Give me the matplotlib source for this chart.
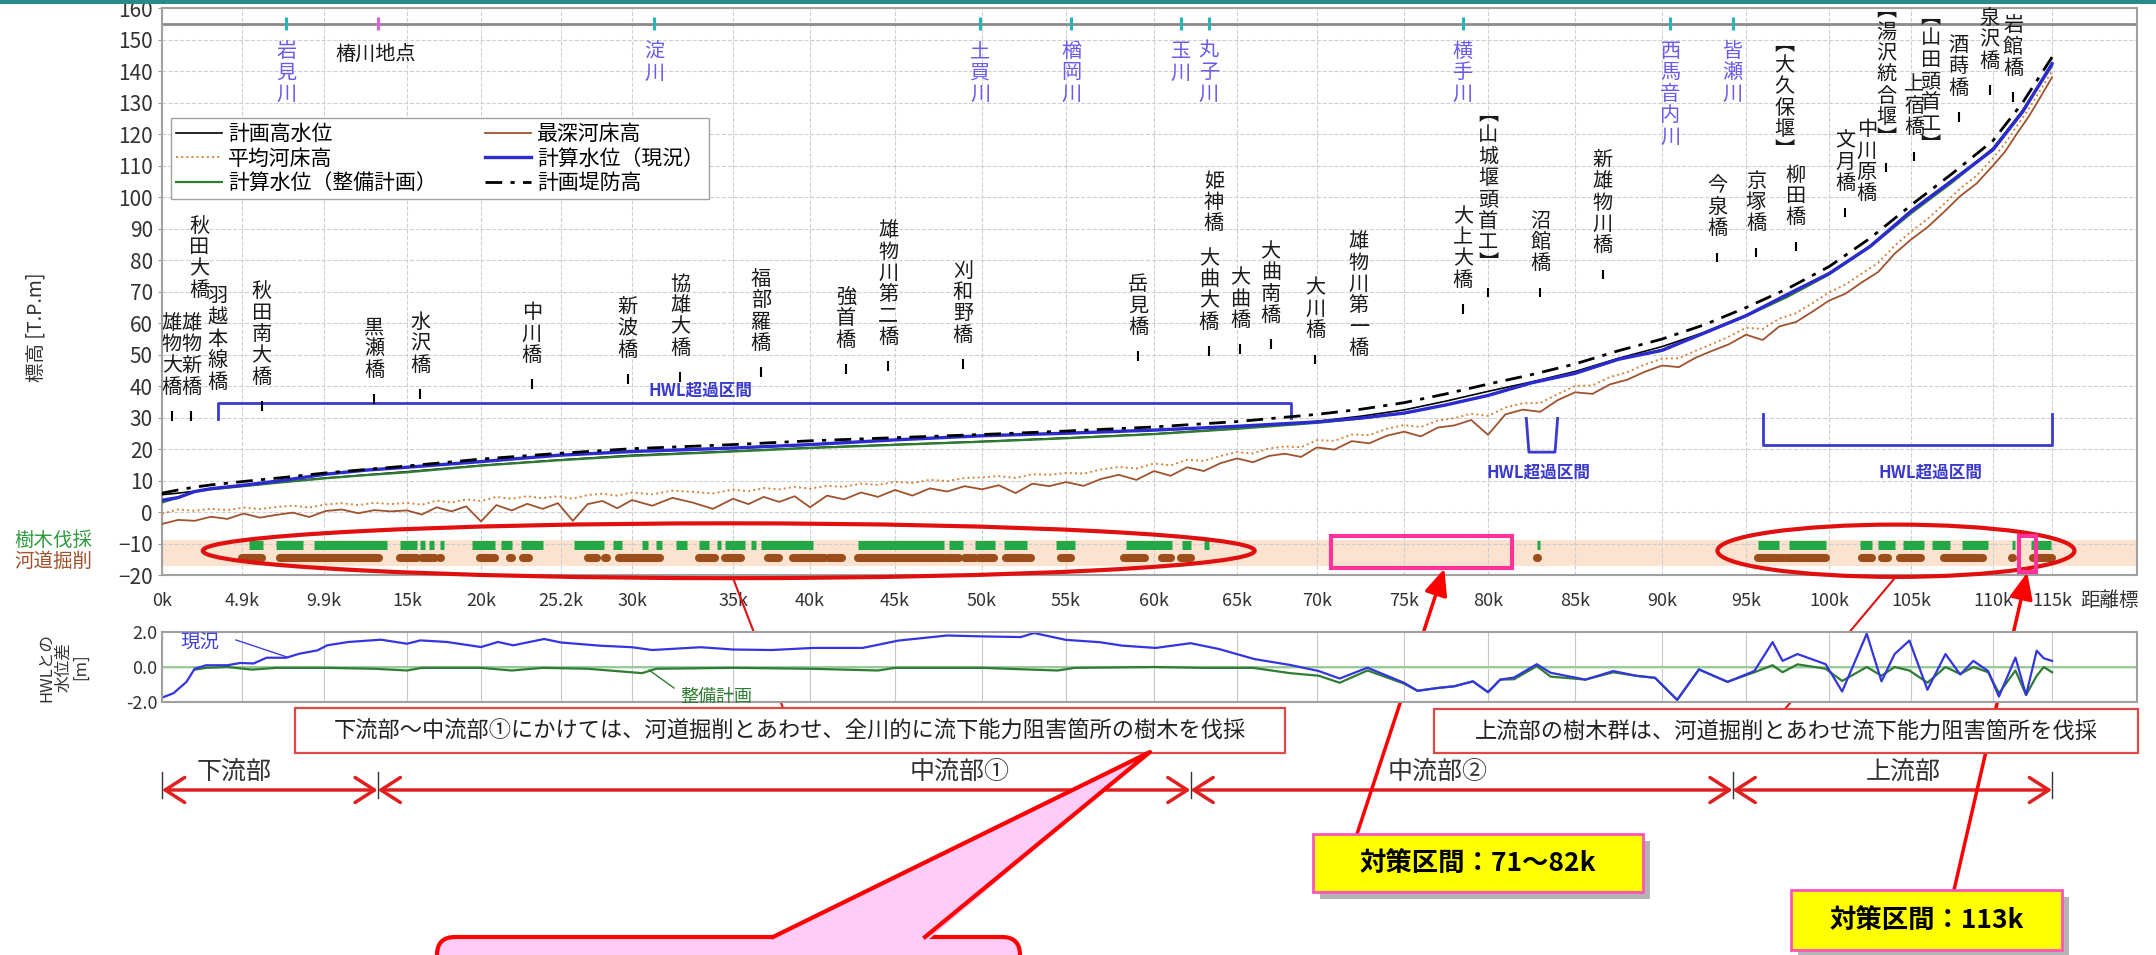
import numpy as np
import matplotlib
matplotlib.use("Agg")
import matplotlib.pyplot as plt
from matplotlib.patches import Ellipse, Rectangle, FancyBboxPatch, Polygon
from matplotlib.lines import Line2D
from matplotlib.transforms import Affine2D, blended_transform_factory

plt.rcParams['font.family'] = ['Noto Sans CJK JP', 'DejaVu Sans']

W, H, DPI = 2156, 955, 100

# distance marks on the x axis (the original axis is not evenly spaced in km)
TICK_KM = [0, 4.9, 9.9, 15, 20, 25.2, 30, 35, 40, 45, 50, 55, 60, 65, 70, 75, 80, 85, 90,
           95, 100, 105, 110, 115]
TICK_LABELS = ['0k', '4.9k', '9.9k', '15k', '20k', '25.2k', '30k', '35k', '40k', '45k', '50k',
               '55k', '60k', '65k', '70k', '75k', '80k', '85k', '90k', '95k', '100k', '105k',
               '110k', '115k']
TICK_POS = [162, 242, 324, 407, 481, 561, 632, 733, 810, 895, 982, 1066, 1154, 1237, 1317,
            1404, 1488, 1575, 1662, 1746, 1829, 1911, 1993, 2052]
XMAX = 122.2

# water levels [T.P.m]
WL_KM = [0, 1, 2, 3, 5, 7.5, 10, 12.5, 15, 20, 25, 30, 35, 40, 45, 50, 55, 60, 65, 70, 72.5,
         75, 77.5, 80, 82.5, 85, 87.5, 90, 92.5, 95, 97.5, 100, 102.5, 105, 107.5, 110, 112.5, 115]
HWL = [5.5, 6.0, 6.6, 7.3, 8.3, 9.6, 10.8, 11.8, 12.8, 14.8, 16.5, 18.0, 19.3, 20.4, 21.4, 22.4,
       23.5, 24.8, 26.5, 28.8, 30.4, 32.4, 35.2, 38.3, 41.3, 44.6, 48.8, 52.5, 57.0, 62.5, 68.5,
       75.5, 84.5, 95.0, 105.0, 115.5, 127.5, 142.0]
WL_NOW = [3.7, 4.6, 6.5, 7.4, 8.5, 10.1, 12.0, 13.3, 14.2, 16.0, 18.0, 19.2, 20.3, 21.4, 22.9,
          24.2, 25.0, 26.0, 27.2, 28.6, 29.8, 31.4, 34.0, 37.0, 41.0, 44.0, 48.5, 51.3, 56.8,
          62.3, 69.1, 75.7, 84.3, 95.5, 105.2, 115.0, 127.0, 142.3]
WL_PLAN = [3.0, 4.6, 6.5, 7.2, 8.2, 9.5, 10.7, 11.7, 12.6, 14.7, 16.4, 17.8, 19.2, 20.3, 21.3,
           22.3, 23.4, 24.7, 26.4, 28.3, 29.7, 31.4, 34.0, 37.0, 41.0, 44.0, 48.4, 51.5, 56.7,
           62.2, 68.3, 75.4, 84.1, 94.8, 104.6, 115.1, 127.3, 141.6]
LEVEE = [6.0, 7.0, 7.9, 8.6, 9.7, 11.0, 12.4, 13.5, 14.6, 16.8, 18.6, 20.1, 21.4, 22.6, 23.6,
         24.6, 25.7, 27.0, 28.7, 31.0, 32.6, 34.7, 37.5, 40.6, 43.6, 47.0, 51.2, 54.9, 59.4,
         64.9, 70.9, 77.9, 86.9, 97.4, 107.4, 117.9, 129.9, 144.4]

# river bed, one value per km (0k - 115k)
BED_KM = list(range(0, 116))
DEEP_BED = [-3.8, -2.5, -2.8, -1.5, -2.2, -0.5, -1.8, -0.9, -0.2, -1.6,
            0.3, 0.8, -0.4, 0.6, 0.2, 0.5, -0.8, 1.5, 0.2, 1.8,
            -3.0, 2.2, 0.5, 2.6, 1.0, 2.8, -2.8, 2.5, 3.5, 1.2,
            3.8, 2.0, 4.5, 3.0, 1.0, 4.2, 2.5, 4.8, 3.2, 5.0,
            1.5, 5.2, 4.0, 6.2, 4.8, 7.0, 5.2, 7.5, 6.5, 8.2,
            7.2, 8.5, 6.0, 9.0, 8.2, 9.5, 8.3, 10.5, 11.8, 10.2,
            13.0, 11.5, 14.2, 13.0, 15.5, 17.0, 15.8, 17.8, 18.5, 17.5,
            20.5, 19.8, 22.5, 21.8, 24.2, 25.5, 24.0, 26.8, 27.5, 29.2,
            24.5, 31.0, 32.5, 31.8, 35.5, 38.0, 37.5, 40.5, 42.0, 44.5,
            46.5, 46.0, 49.0, 51.2, 53.3, 56.3, 54.6, 58.9, 60.3, 63.6,
            67.1, 69.3, 72.9, 76.2, 82.0, 86.5, 90.4, 95.2, 100.3, 104.3,
            110.0, 114.3, 120.0, 125.4, 131.6, 138.0]
AVG_BED = [-0.5, 0.8, 0.4, 1.0, 0.6, 1.4, 0.9, 1.6, 2.0, 1.4,
           2.4, 2.8, 2.2, 2.9, 2.5, 2.9, 2.3, 3.6, 3.0, 4.0,
           3.5, 4.8, 4.2, 5.0, 4.4, 5.0, 4.2, 5.4, 5.8, 5.2,
           6.2, 5.6, 6.8, 6.4, 5.9, 7.1, 6.6, 7.6, 7.2, 8.0,
           7.4, 8.3, 8.0, 9.0, 8.6, 9.6, 9.2, 10.2, 9.8, 10.8,
           11.0, 11.4, 10.8, 12.0, 11.8, 12.4, 12.2, 13.5, 14.3, 13.8,
           15.4, 14.8, 16.6, 16.2, 17.8, 19.0, 18.6, 20.2, 20.8, 20.6,
           22.8, 22.6, 24.6, 24.4, 26.4, 27.6, 27.0, 29.0, 29.8, 31.2,
           30.5, 33.2, 34.5, 34.6, 37.4, 40.0, 40.2, 42.8, 44.4, 46.8,
           48.7, 48.8, 51.2, 53.4, 55.7, 58.5, 58.1, 61.4, 63.1, 66.3,
           69.7, 72.2, 75.7, 79.1, 84.5, 89.0, 93.0, 97.7, 102.7, 106.8,
           112.3, 116.9, 122.4, 127.8, 133.9, 140.0]

# difference from HWL [m]
DIFF_KM_NOW = [0, 0.7, 1.5, 2.0, 2.7, 4.0, 4.8, 5.6, 6.4, 7.6, 8.4, 9.5, 10.1, 11.4, 13.4, 15.0,
               15.9, 17.7, 20.0, 21.1, 22.1, 24.1, 25.2, 27.8, 30.0, 31.0, 33.4, 35.0, 37.5, 40.2,
               43.1, 45.2, 48.0, 50.0, 52.3, 53.1, 55.0, 56.9, 58.2, 60.1, 62.2, 63.9, 66.1, 68.3,
               70.1, 71.3, 72.9, 75.0, 75.8, 77.0, 78.0, 79.1, 80.0, 80.7, 81.5, 82.8, 83.6, 85.6,
               87.2, 88.5, 89.6, 90.9, 92.2, 93.9, 95.5, 96.6, 97.2, 98.1, 99.8, 100.8, 102.3,
               103.2, 104.0, 104.9, 106.0, 107.1, 108.0, 108.8, 109.7, 110.5, 111.9, 112.8, 113.7,
               114.3, 115.0]
DIFF_NOW = [-1.75, -1.5, -0.85, -0.1, 0.1, 0.1, 0.23, 0.2, 0.53, 0.53, 0.76, 0.95, 1.24, 1.43,
            1.56, 1.33, 1.52, 1.43, 1.14, 1.43, 1.24, 1.6, 1.4, 1.22, 1.13, 0.97, 1.13, 1.0, 0.97,
            1.09, 1.09, 1.51, 1.8, 1.75, 1.71, 1.94, 1.55, 1.42, 1.22, 1.09, 1.36, 1.03, 0.45,
            0.12, -0.23, -0.66, -0.04, -0.9, -1.36, -1.2, -1.1, -0.82, -1.44, -0.72, -0.6, 0.16,
            -0.33, -0.72, -0.23, -0.5, -0.62, -1.88, -0.14, -0.85, -0.23, 1.42, 0.35, 0.74, 0.16,
            -1.4, 1.9, -0.82, 0.74, 1.51, -1.3, 0.74, -0.43, 0.35, -0.23, -1.69, 0.54, -1.6, 0.93,
            0.5, 0.35]
DIFF_KM_PLAN = [2.0, 2.7, 4.0, 5.5, 7.0, 10.0, 13.0, 15.0, 16.0, 20.0, 22.0, 24.0, 27.0, 30.5,
                31.2, 35.0, 40.0, 44.0, 45.0, 50.0, 54.5, 55.5, 60.0, 63.0, 66.0, 68.3, 70.1, 71.3,
                72.9, 75.0, 75.8, 77.0, 78.0, 79.1, 80.0, 80.7, 81.5, 82.8, 83.6, 85.6, 87.2, 88.5,
                89.6, 90.9, 92.2, 93.9, 95.5, 96.6, 97.2, 98.1, 99.8, 100.8, 102.3, 103.2, 104.0,
                104.9, 106.0, 107.1, 108.0, 108.8, 109.7, 110.5, 111.9, 112.8, 113.7, 114.3, 115.0]
DIFF_PLAN = [-0.15, -0.05, 0.0, -0.15, -0.05, -0.05, -0.1, -0.2, -0.05, -0.05, -0.2, -0.05, -0.1,
             -0.35, -0.1, -0.05, -0.1, -0.2, -0.05, -0.05, -0.2, -0.05, 0.0, -0.05, -0.05, -0.35,
             -0.5, -0.9, -0.2, -0.95, -1.36, -1.2, -1.1, -0.82, -1.44, -0.72, -0.7, 0.05, -0.55,
             -0.72, -0.3, -0.5, -0.62, -1.88, -0.14, -0.85, -0.3, 0.1, -0.3, 0.15, -0.1, -0.8, 0.0,
             -0.5, 0.0, -0.2, -0.9, 0.0, -0.4, 0.0, -0.3, -1.5, -0.2, -1.6, -0.5, 0.0, -0.3]

# tree cutting / channel excavation sections (km from, km to)
TREE_CUT = [(5.3, 6.2), (7.0, 8.6), (9.3, 13.8), (14.6, 15.7), (15.9, 16.2), (16.5, 16.8),
            (17.2, 17.5), (19.4, 20.9), (21.3, 22.0), (22.6, 24.0), (26.1, 28.1), (28.7, 29.3),
            (30.5, 30.8), (31.2, 31.5), (32.2, 32.7), (33.3, 33.8), (34.2, 34.4), (34.6, 35.8),
            (36.2, 36.5), (36.8, 40.2), (42.8, 47.8), (48.1, 48.9), (49.6, 50.8), (51.3, 52.7),
            (54.4, 55.5), (58.4, 61.1), (61.7, 62.2), (63.0, 63.3), (82.8, 83.0), (95.7, 97.0),
            (97.6, 99.8), (101.9, 102.6), (103.0, 104.0), (104.5, 105.8), (106.3, 107.4),
            (108.1, 109.7), (111.6, 111.9), (113.2, 114.9)]
EXCAVATION = [(4.9, 6.1), (7.2, 13.3), (14.6, 15.7), (16.0, 16.9), (17.2, 17.3), (19.9, 20.9),
              (21.9, 22.0), (22.7, 23.1), (27.0, 27.6), (28.2, 28.3), (29.1, 31.4), (33.3, 34.1),
              (34.6, 35.5), (37.3, 38.0), (38.9, 40.9), (41.1, 41.9), (42.8, 47.8), (48.0, 48.7),
              (49.0, 49.6), (49.8, 50.7), (51.4, 52.9), (54.7, 55.3), (58.3, 59.5), (60.5, 61.0),
              (61.6, 62.2), (82.8, 82.9), (95.7, 97.2), (97.4, 99.8), (102.0, 102.6),
              (103.2, 103.6), (104.3, 105.6), (107.0, 109.4), (111.6, 111.7), (113.4, 115.0)]

# bridges / weirs: name, km, elevation of label foot, with tick mark
BRIDGES = [("雄物大橋", 0.6, 36.3, True), ("雄物新橋", 1.8, 36.3, True),
           ("秋田大橋", 2.3, 67.0, False), ("羽越本線橋", 3.4, 37.9, False),
           ("秋田南大橋", 6.1, 39.5, True), ("黒瀬橋", 13.0, 41.7, True),
           ("水沢橋", 15.9, 43.3, True), ("中川橋", 23.3, 46.4, True),
           ("新波橋", 29.7, 48.0, True), ("協雄大橋", 32.4, 48.6, True),
           ("福部羅橋", 36.8, 50.2, True), ("強首橋", 42.1, 51.2, True),
           ("雄物川第二橋", 44.6, 52.1, True), ("刈和野橋", 48.9, 52.8, True),
           ("岳見橋", 59.1, 55.3, True), ("姫神橋", 63.6, 88.2, False),
           ("大曲大橋", 63.3, 56.9, True), ("大曲橋", 65.2, 57.5, True),
           ("大曲南橋", 67.1, 59.1, True), ("大川橋", 69.9, 54.3, True),
           ("雄物川第一橋", 72.4, 48.6, False), ("大上大橋", 78.5, 70.2, True),
           ("︻山城堰頭首工︼", 80.0, 75.5, True), ("沼館橋", 83.0, 75.5, True),
           ("新雄物川橋", 86.6, 81.2, True), ("今泉橋", 93.3, 86.6, True),
           ("京塚橋", 95.6, 88.2, True), ("︻大久保堰︼", 97.3, 111.3, False),
           ("柳田橋", 98.0, 90.1, True), ("文月橋", 101.0, 100.8, True),
           ("中川原橋", 102.3, 97.7, False), ("︻湯沢統合堰︼", 103.5, 115.1, True),
           ("上宿橋", 105.2, 118.6, True), ("︻山田頭首工︼", 106.2, 113.0, False),
           ("酒蒔橋", 107.9, 131.2, True), ("泉沢橋", 109.8, 139.8, True),
           ("岩館橋", 111.7, 137.5, True)]
TRIBUTARIES = [("岩見川", 7.6), ("淀川", 31.1), ("土買川", 49.9), ("楢岡川", 55.3), ("玉川", 61.6),
               ("丸子川", 63.3), ("横手川", 78.5), ("西馬音内川", 90.5), ("皆瀬川", 94.2)]
TSUBAKIGAWA_KM = 13.2

SECTION_KM = [0, 13.2, 62.2, 94.2, 115]
SECTION_NAMES = ["下流部", "中流部①", "中流部②", "上流部"]
SECTION_LABEL_KM = [4.4, 48.7, 77.0, 104.5]

BLUE = '#2b2bd0'
GREEN = '#2e7d32'
BROWN = '#a0522d'
TRIB = '#6a5aed'

_km = np.array([-10.0] + TICK_KM + [130.0])
_pos = np.array([2.0] + TICK_POS + [2052 + 15 * 11.8])


def fwd(x):
    return np.interp(x, _km, _pos)


def inv(p):
    return np.interp(p, _pos, _km)


fig = plt.figure(figsize=(W / DPI, H / DPI), dpi=DPI)
PX = Affine2D().scale(1 / W, -1 / H).translate(0, 1) + fig.transFigure

ax = fig.add_axes([162 / W, 1 - 575 / H, (2137 - 162) / W, (575 - 8) / H])
ax2 = fig.add_axes([162 / W, 1 - 702 / H, (2137 - 162) / W, (702 - 632) / H])
for a in (ax, ax2):
    a.set_xscale('function', functions=(fwd, inv))
    a.set_xlim(0, XMAX)
    a.set_xticks(TICK_KM)
    for s in a.spines.values():
        s.set_color('#a0a0a0')
        s.set_linewidth(1.5)

# ---- main profile ----
ax.set_ylim(-20, 160)
ax.set_yticks(range(-20, 161, 10))
ax.set_xticklabels(TICK_LABELS)
ax.tick_params(axis='x', length=0, pad=12, labelsize=13, labelcolor='#333333')
ax.tick_params(axis='y', length=3, color='#999999', labelsize=15, labelcolor='#333333')
ax.grid(True, color='#cfcfcf', ls='--', lw=0.8)
ax.set_axisbelow(True)
ax.axhspan(-17, -9, color='#fbe3cf', lw=0, zorder=0.5)
ax.axhline(155, color='#8a8a8a', lw=2, zorder=2)

l_avg, = ax.plot(BED_KM, AVG_BED, color='#d2843c', lw=1.4, ls=':', zorder=3)
l_deep, = ax.plot(BED_KM, DEEP_BED, color=BROWN, lw=1.3, zorder=3)
l_hwl, = ax.plot(WL_KM, HWL, color='black', lw=1.2, zorder=3)
l_plan, = ax.plot(WL_KM, WL_PLAN, color=GREEN, lw=1.6, zorder=4)
l_now, = ax.plot(WL_KM, WL_NOW, color=BLUE, lw=2.4, zorder=5)
l_levee, = ax.plot(WL_KM, LEVEE, color='black', lw=2.0, ls=(0, (6, 3, 1.5, 3)), zorder=6)

ax.legend([l_hwl, l_avg, l_plan, l_deep, l_now, l_levee],
          ['計画高水位', '平均河床高', '計算水位（整備計画）', '最深河床高', '計算水位（現況）', '計画堤防高'],
          ncol=2, loc='upper left', bbox_to_anchor=(171 / W, 1 - 118 / H),
          bbox_transform=fig.transFigure, fontsize=15, frameon=True, fancybox=False,
          edgecolor='#a0a0a0', framealpha=1, borderaxespad=0, borderpad=0.25,
          handlelength=2.2, handletextpad=0.3, labelspacing=0.12, columnspacing=2.3)

# tree cutting / excavation bars
ax.hlines([-10.5] * len(TREE_CUT), [s[0] for s in TREE_CUT], [s[1] for s in TREE_CUT],
          colors='#22a847', lw=6.5, capstyle='butt', zorder=4)
ax.hlines([-14.5] * len(EXCAVATION), [s[0] for s in EXCAVATION], [s[1] for s in EXCAVATION],
          colors='#9c4e1a', lw=5.8, capstyle='round', zorder=4)

# HWL exceedance brackets
ax.plot([3.4, 3.4, 68.4, 68.4], [29.4, 34.5, 34.5, 30.0], color='#3a3acc', lw=2, zorder=4)
ax.plot([82.2, 82.35, 83.85, 84.0], [29.7, 19.0, 19.0, 29.7], color='#3a3acc', lw=2, zorder=4)
ax.plot([96.0, 96.0, 115.0, 115.0], [31.2, 21.2, 21.2, 31.2], color='#3a3acc', lw=2, zorder=4)
ax.text(33.4, 35.6, 'HWL超過区間', color='#3a3acc', fontsize=12, fontweight='bold',
        ha='center', va='bottom')
for k in (82.9, 106.2):
    ax.text(k, 12.6, 'HWL超過区間', color='#3a3acc', fontsize=12, fontweight='bold',
            ha='center', va='center')

# bridges and weirs
for name, k, y, tick in BRIDGES:
    ax.text(k, y, '\n'.join(name), ha='center', va='bottom', fontsize=14.5,
            linespacing=1.02, color='#1a1a1a', zorder=7)
    if tick:
        ax.vlines(k, y - 7.3, y - 4.3, color='black', lw=1.5, zorder=7)

# tributaries
for name, k in TRIBUTARIES:
    ax.vlines(k, 153, 157.3, color='#2ab5b5', lw=2.2, zorder=3)
    ax.text(k, 149.5, '\n'.join(name), ha='center', va='top', fontsize=14.5,
            linespacing=1.02, color=TRIB)
ax.vlines(TSUBAKIGAWA_KM, 153, 157.3, color='#e060e0', lw=2.2, zorder=3)
ax.text(10.6, 145.2, '椿川地点', ha='left', va='center', fontsize=14.5, color='#1a1a1a')


def axes_ellipse(x0, x1, y0, y1):
    inv_ax = ax.transAxes.inverted()
    (a0, b0), (a1, b1) = inv_ax.transform(ax.transData.transform([(x0, y0), (x1, y1)]))
    return Ellipse(((a0 + a1) / 2, (b0 + b1) / 2), a1 - a0, b1 - b0, transform=ax.transAxes,
                   fill=False, edgecolor='#e01010', lw=3, clip_on=False, zorder=8)


ax.add_patch(axes_ellipse(2.5, 66.1, -21.0, -3.6))
ax.add_patch(axes_ellipse(93.3, 116.9, -20.6, -4.0))
ax.add_patch(Rectangle((70.8, -17.8), 81.4 - 70.8, 10.1, fill=False, edgecolor='#ff3399',
                       lw=3, zorder=8))
ax.add_patch(Rectangle((112.2, -18.9), 1.4, 11.4, fill=False, edgecolor='#ff3399', lw=3,
                       zorder=8, clip_on=False))

# ---- difference from HWL ----
ax2.set_ylim(-2, 2)
ax2.set_yticks([-2, 0, 2])
ax2.set_yticklabels(['-2.0', '0.0', '2.0'])
ax2.tick_params(axis='x', length=0, labelbottom=False)
ax2.tick_params(axis='y', length=0, labelsize=13, labelcolor='#333333')
ax2.grid(True, axis='x', color='#c8c8c8', lw=0.8)
ax2.set_axisbelow(True)
ax2.axhspan(-0.12, 0.0, color='#d5ecd5', lw=0)
ax2.axhline(0, color='#8cc08c', lw=1.2)
ax2.plot(DIFF_KM_PLAN, DIFF_PLAN, color=GREEN, lw=1.6)
ax2.plot(DIFF_KM_NOW, DIFF_NOW, color='#3535e0', lw=1.6)

# ---- labels outside the axes ----
fig.text(36, 327, '標高 [T.P.m]', transform=PX, rotation=90, ha='center', va='center',
         fontsize=14, color='#333333')
fig.text(14, 540, '樹木伐採', transform=PX, ha='left', va='center', fontsize=14, color='#2e9a3e')
fig.text(14, 561, '河道掘削', transform=PX, ha='left', va='center', fontsize=14, color=BROWN)
fig.text(2080, 600, '距離標', transform=PX, ha='left', va='center', fontsize=14, color='#333333')
fig.text(64, 667, 'HWLとの\n水位差\n[m]', transform=PX, rotation=90, ha='center', va='center',
         fontsize=12, linespacing=1.0, color='#333333')
fig.text(200, 642, '現況', transform=PX, ha='center', va='center', fontsize=14, color='#4040e0')
fig.add_artist(Line2D([236, 287], [640, 657], transform=PX, color='#4040e0', lw=1))
fig.text(716, 697, '整備計画', transform=PX, ha='center', va='center', fontsize=13, color=GREEN)
fig.add_artist(Line2D([649, 674], [670, 688], transform=PX, color=GREEN, lw=1))

fig.add_artist(Rectangle((0, 0), W, 4, transform=PX, color='#2a8a8a', lw=0))

# callout boxes
for (x0, y0, x1, y1), txt in [((295, 708, 1285, 753),
                               '下流部～中流部①にかけては、河道掘削とあわせ、全川的に流下能力阻害箇所の樹木を伐採'),
                              ((1434, 709, 2138, 753),
                               '上流部の樹木群は、河道掘削とあわせ流下能力阻害箇所を伐採')]:
    fig.add_artist(Rectangle((x0, y0), x1 - x0, y1 - y0, transform=PX, facecolor='white',
                             edgecolor='#e04848', lw=1.6))
    fig.text((x0 + x1) / 2, (y0 + y1) / 2, txt, transform=PX, ha='center', va='center',
             fontsize=16, color='#222222')

ax.annotate('', xy=(35.0, -21.0), xytext=(783, 708), textcoords=PX, annotation_clip=False,
            arrowprops=dict(arrowstyle='-', color='#e01010', lw=1.5, shrinkA=0, shrinkB=0))
ax.annotate('', xy=(104.1, -20.4), xytext=(1785, 709), textcoords=PX, annotation_clip=False,
            arrowprops=dict(arrowstyle='-', color='#e01010', lw=1.5, shrinkA=0, shrinkB=0))

# reach arrows
BT = blended_transform_factory(ax.transData, PX)
for i in range(len(SECTION_NAMES)):
    ax.annotate('', xy=(SECTION_KM[i + 1], 790), xytext=(SECTION_KM[i], 790), xycoords=BT,
                textcoords=BT, annotation_clip=False,
                arrowprops=dict(arrowstyle='<->,head_length=0.7,head_width=0.45', color='#e02020',
                                lw=2.5, mutation_scale=20, shrinkA=0, shrinkB=0))
    ax.text(SECTION_LABEL_KM[i], 772, SECTION_NAMES[i], transform=BT, ha='center', va='center',
            fontsize=18, color='#333333', clip_on=False)
for k in SECTION_KM:
    ax.add_line(Line2D([k, k], [772, 798], transform=BT, color='#333333', lw=1, clip_on=False))

# countermeasure boxes
for (x0, y0, x1, y1), txt in [((1313, 834, 1643, 892), '対策区間：71～82k'),
                              ((1791, 890, 2062, 950), '対策区間：113k')]:
    fig.add_artist(Rectangle((x0 + 7, y0 + 7), x1 - x0, y1 - y0, transform=PX,
                             facecolor='#b4b4b4', lw=0))
    fig.add_artist(Rectangle((x0, y0), x1 - x0, y1 - y0, transform=PX, facecolor='#ffff00',
                             edgecolor='#ff55bb', lw=2))
    fig.text((x0 + x1) / 2, (y0 + y1) / 2, txt, transform=PX, ha='center', va='center',
             fontsize=19, fontweight='bold', color='black')

ax.annotate('', xy=(77.4, -18.0), xytext=(1357, 834), textcoords=PX, annotation_clip=False,
            arrowprops=dict(arrowstyle='-|>,head_length=0.8,head_width=0.35', color='#ff0000',
                            lw=2.5, mutation_scale=20, shrinkA=0, shrinkB=0))
ax.annotate('', xy=(112.9, -19.2), xytext=(1954, 890), textcoords=PX, annotation_clip=False,
            arrowprops=dict(arrowstyle='-|>,head_length=0.8,head_width=0.35', color='#ff0000',
                            lw=2.5, mutation_scale=20, shrinkA=0, shrinkB=0))

# pink speech callout
fig.add_artist(FancyBboxPatch((437, 937), 1020 - 437, 60, transform=PX,
                              boxstyle='round,pad=0,rounding_size=18',
                              facecolor='#ffccf7', edgecolor='#ff0000', lw=3))
fig.add_artist(Polygon([(770, 940), (1150, 752), (928, 940)], closed=True, transform=PX,
                       facecolor='#ffccf7', edgecolor='none'))
fig.add_artist(Line2D([773, 1150, 925], [937, 752, 937], transform=PX, color='#ff0000', lw=3))

fig.savefig('out.png', dpi=DPI, facecolor='white')
